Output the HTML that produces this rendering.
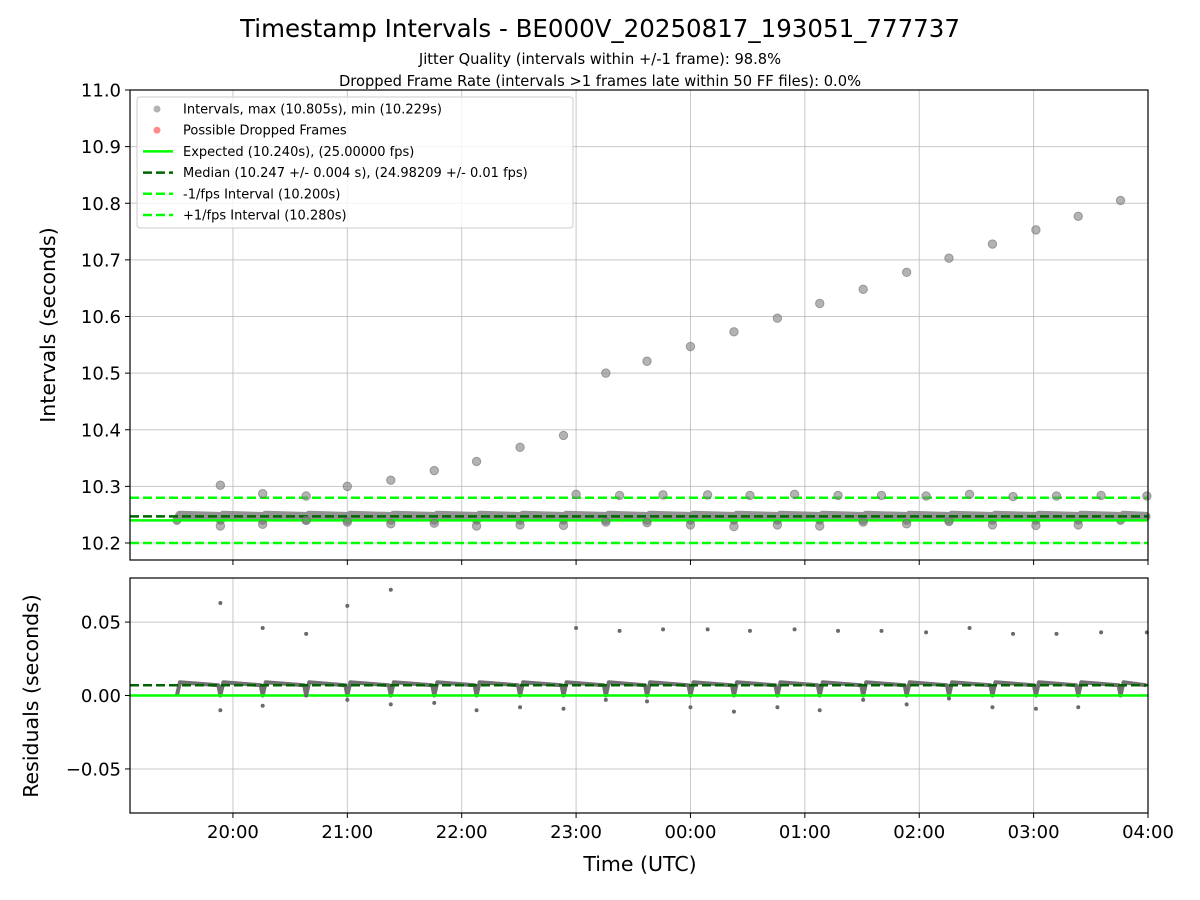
<!DOCTYPE html>
<html><head><meta charset="utf-8"><style>
body{margin:0;background:#fff;}
svg{display:block;font-family:"DejaVu Sans","Liberation Sans",sans-serif;}
</style></head><body>
<svg id="chart" width="1200" height="900" viewBox="0 0 1200 900">
<text x="600" y="37" text-anchor="middle" font-size="24.5">Timestamp Intervals - BE000V_20250817_193051_777737</text>
<text x="600" y="64" text-anchor="middle" font-size="14.7">Jitter Quality (intervals within +/-1 frame): 98.8%</text>
<text x="600" y="86" text-anchor="middle" font-size="14.7">Dropped Frame Rate (intervals &gt;1 frames late within 50 FF files): 0.0%</text>
<g id="topPanel"></g>
<g id="botPanel"></g>
<text x="640" y="871" text-anchor="middle" font-size="20.5">Time (UTC)</text>
<text transform="translate(55,325) rotate(-90)" text-anchor="middle" font-size="20.5">Intervals (seconds)</text>
<text transform="translate(38,696) rotate(-90)" text-anchor="middle" font-size="20.5">Residuals (seconds)</text>
<g id="legend"></g>
</svg>
<script>
// data (time in decimal hours UTC, continuous past midnight)
const xTickHours=[20,21,22,23,24,25,26,27,28];
const xTickLabels=["20:00","21:00","22:00","23:00","00:00","01:00","02:00","03:00","04:00"];
const topTicks=[10.2,10.3,10.4,10.5,10.6,10.7,10.8,10.9,11.0];
const botTicks=[-0.05,0.0,0.05];
const botTickLabels=["\u22120.05","0.00","0.05"];
const expected=10.24, median=10.247, lowerLim=10.20, upperLim=10.28;
const boundaryTimes=[19.51,19.89,20.26,20.64,21.0,21.38,21.76,22.13,22.51,22.89,23.26,23.62,24.0,24.38,24.76,25.13,25.51,25.89,26.26,26.64,27.02,27.39,27.76,28.0];
const peakTimes=[19.89,20.26,20.64,21.0,21.38,21.76,22.13,22.51,22.89,23.26,23.62,24.0,24.38,24.76,25.13,25.51,25.89,26.26,26.64,27.02,27.39,27.76];
const peakValues=[10.302,10.287,10.283,10.300,10.311,10.328,10.344,10.369,10.390,10.500,10.521,10.547,10.573,10.597,10.623,10.648,10.678,10.703,10.728,10.753,10.777,10.805];
const peakResid=[0.063,0.046,0.042,0.061,0.072,0.0,0.0,0.0,0.0,0.0,0.0,0.0,0.0,0.0,0.0,0.0,0.0,0.0,0.0,0.0,0.0,0.0];
const midTimes=[23.0,23.38,23.76,24.15,24.52,24.91,25.29,25.67,26.06,26.44,26.82,27.2,27.59,27.99];
const midValues=[10.286,10.284,10.285,10.285,10.284,10.286,10.284,10.284,10.283,10.286,10.282,10.283,10.284,10.283];
const midResid=[0.046,0.044,0.045,0.045,0.044,0.045,0.044,0.044,0.043,0.046,0.042,0.042,0.043,0.043];
const lowTimes=[19.89,20.26,20.64,21.0,21.38,21.76,22.13,22.51,22.89,23.26,23.62,24.0,24.38,24.76,25.13,25.51,25.89,26.26,26.64,27.02,27.39];
const lowValues=[10.230,10.233,10.240,10.237,10.234,10.235,10.230,10.232,10.231,10.237,10.236,10.232,10.229,10.232,10.230,10.237,10.234,10.238,10.232,10.231,10.232];
const lowResid=[-0.010,-0.007,0.0,-0.003,-0.006,-0.005,-0.010,-0.008,-0.009,-0.003,-0.004,-0.008,-0.011,-0.008,-0.010,-0.003,-0.006,-0.002,-0.008,-0.009,-0.008];
const segStartResid=0.009, segEndResid=0.007, segDipResid=0.0;

(function(){
const NS="http://www.w3.org/2000/svg";
const X0=130,X1=1148, tMin=19.1, tMax=28.0;
const xs=t=>X0+(t-tMin)/(tMax-tMin)*(X1-X0);
const T0=90,T1=560, yTopMin=10.17, yTopMax=11.0;
const yt=v=>T1-(v-yTopMin)/(yTopMax-yTopMin)*(T1-T0);
const B0=578,B1=813, yBotMin=-0.08, yBotMax=0.08;
const yb=v=>B1-(v-yBotMin)/(yBotMax-yBotMin)*(B1-B0);
function mk(parent,tag,attrs){const e=document.createElementNS(NS,tag);for(const k in attrs)e.setAttribute(k,attrs[k]);parent.appendChild(e);return e;}
const topG=document.getElementById('topPanel'), botG=document.getElementById('botPanel');

xTickHours.forEach((h,i)=>{
 [[topG,T0,T1],[botG,B0,B1]].forEach(([g,a,b])=>{
  const l=mk(g,'line',{x1:xs(h),x2:xs(h),y1:a,y2:b,stroke:'#b0b0b0','stroke-width':1,'stroke-opacity':0.7});
  
  
  const tk=mk(g,'line',{x1:xs(h),x2:xs(h),y1:b,y2:b+5,stroke:'#000','stroke-width':1});
  
  
 });
 const tx=mk(botG,'text',{x:xs(h),y:B1+25,'text-anchor':'middle','font-size':18});
 tx.textContent=xTickLabels[i];
 
 
});
topTicks.forEach(v=>{
 const l=mk(topG,'line',{x1:X0,x2:X1,y1:yt(v),y2:yt(v),stroke:'#b0b0b0','stroke-width':1,'stroke-opacity':0.7});
 
 
 mk(topG,'line',{x1:X0-5,x2:X0,y1:yt(v),y2:yt(v),stroke:'#000'});
 const tx=mk(topG,'text',{x:X0-9,y:yt(v)+6.5,'text-anchor':'end','font-size':18});
 tx.textContent=v.toFixed(1);
 
 
});
botTicks.forEach((v,i)=>{
 const l=mk(botG,'line',{x1:X0,x2:X1,y1:yb(v),y2:yb(v),stroke:'#b0b0b0','stroke-width':1,'stroke-opacity':0.7});
 
 
 mk(botG,'line',{x1:X0-5,x2:X0,y1:yb(v),y2:yb(v),stroke:'#000'});
 const tx=mk(botG,'text',{x:X0-9,y:yb(v)+6.5,'text-anchor':'end','font-size':18});
 tx.textContent=botTickLabels[i];
 
 
});

function bandPath(yf,base){let d='';for(let i=0;i<boundaryTimes.length-1;i++){const a=boundaryTimes[i],b=boundaryTimes[i+1];
 d+=(i?'L':'M')+xs(a)+','+yf(base+segDipResid)+'L'+(xs(a)+3)+','+yf(base+segStartResid)+'L'+(xs(b)-2)+','+yf(base+segEndResid);}return d;}
const bt=mk(topG,'path',{d:bandPath(yt,expected),fill:'none',stroke:'#808080','stroke-width':9,'stroke-linejoin':'round','stroke-linecap':'round','stroke-opacity':0.85});


const bb=mk(botG,'path',{d:bandPath(yb,0),fill:'none',stroke:'#707070','stroke-width':4,'stroke-linejoin':'round'});



function hline(g,y,color,dash,w,name){const l=mk(g,'line',{x1:X0,x2:X1,y1:y,y2:y,stroke:color,'stroke-width':w});if(dash)l.setAttribute('stroke-dasharray',dash);}
hline(topG,yt(upperLim),'#00ff00','9,4',2.5,'plus-1fps-line');
hline(topG,yt(lowerLim),'#00ff00','9,4',2.5,'minus-1fps-line');
hline(topG,yt(expected),'#00ff00',null,2.5,'expected-line');
hline(topG,yt(median),'#006400','9,4',2.5,'median-line');
hline(botG,yb(0),'#00ff00',null,2.5,'residual-expected-line');
hline(botG,yb(median-expected),'#006400','9,4',2.5,'residual-median-line');

function pts(g,ts,vs,yf,r,name,edge){ts.forEach((t,i)=>{const c=mk(g,'circle',{cx:xs(t),cy:yf(vs[i]),r:r,fill:edge?'rgba(128,128,128,0.6)':'#6a6a6a',stroke:edge?'rgba(110,110,110,0.6)':'none','stroke-width':1});
 
 });}
pts(topG,peakTimes,peakValues,yt,4.2,'interval-point',true);
pts(topG,midTimes,midValues,yt,4.2,'interval-point',true);
pts(topG,lowTimes,lowValues,yt,4.2,'interval-point',true);
const rt=peakTimes.filter((t,i)=>peakResid[i]>0), rv=peakResid.filter(v=>v>0);
pts(botG,rt,rv,yb,2,'residual-point',false);
pts(botG,midTimes,midResid,yb,2,'residual-point',false);
pts(botG,lowTimes,lowResid,yb,2,'residual-point',false);

[[topG,T0,T1],[botG,B0,B1]].forEach(([g,a,b])=>{const r=mk(g,'rect',{x:X0,y:a,width:X1-X0,height:b-a,fill:'none',stroke:'#000','stroke-width':1.2});});

const lg=document.getElementById('legend');
mk(lg,'rect',{x:137,y:97,width:436,height:131,rx:3,fill:'rgba(255,255,255,0.8)',stroke:'#ccc'});
const items=[["dot","rgba(128,128,128,0.6)","Intervals, max (10.805s), min (10.229s)"],["dot","rgba(255,60,60,0.6)","Possible Dropped Frames"],["line","#00ff00","Expected (10.240s), (25.00000 fps)"],["dash","#006400","Median (10.247 +/- 0.004 s), (24.98209 +/- 0.01 fps)"],["dash","#00ff00","-1/fps Interval (10.200s)"],["dash","#00ff00","+1/fps Interval (10.280s)"]];
items.forEach((it,i)=>{const y=109+i*21.2;const g=mk(lg,'g',{});
 
 
 if(it[0]==='dot')mk(g,'circle',{cx:157,cy:y,r:3.5,fill:it[1]});
 else{const l=mk(g,'line',{x1:143,x2:173,y1:y,y2:y,stroke:it[1],'stroke-width':2.5});if(it[0]==='dash')l.setAttribute('stroke-dasharray','9,4');}
 const t=mk(g,'text',{x:183,y:y+4.5,'font-size':13});t.textContent=it[2];});
})();
</script>
</body></html>
